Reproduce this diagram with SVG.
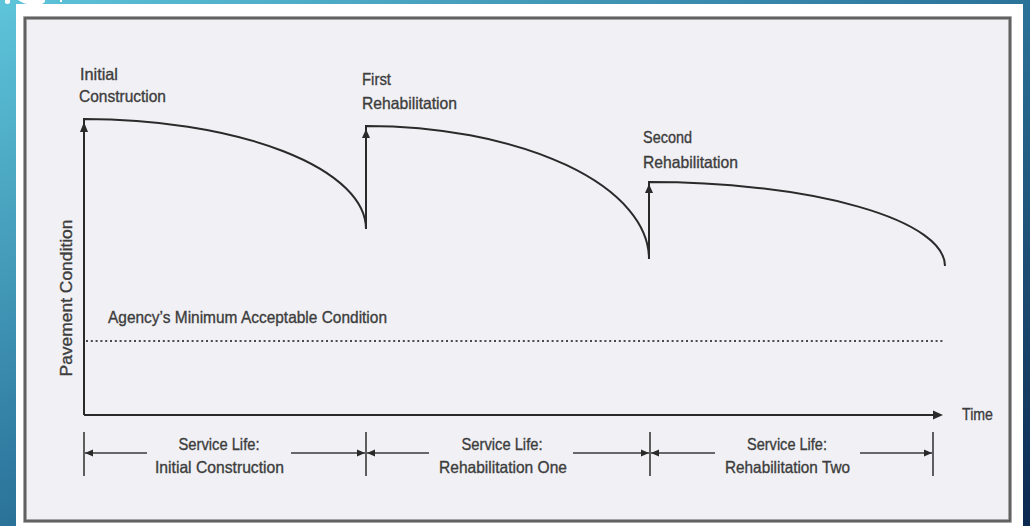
<svg xmlns="http://www.w3.org/2000/svg" width="1030" height="526" viewBox="0 0 1030 526">
  <defs>
    <linearGradient id="bg" x1="0" y1="0" x2="1" y2="1">
      <stop offset="0" stop-color="#5ec5da"/>
      <stop offset="0.45" stop-color="#2f7aa0"/>
      <stop offset="1" stop-color="#0c2950"/>
    </linearGradient>
    <marker id="ah" viewBox="0 0 8 8" refX="8" refY="4" markerWidth="8" markerHeight="8" markerUnits="userSpaceOnUse" orient="auto">
      <path d="M0,0.5 L8,4 L0,7.5 z" fill="#2a2a2a"/>
    </marker>
    <style>
      .t { font-family: "Liberation Sans", Arial, sans-serif; fill: #3d3d3d; stroke: #3d3d3d; stroke-width: 0.35; font-size: 16.5px; }
      .c { text-anchor: middle; }
      .ln { stroke: #2a2a2a; stroke-width: 2; fill: none; }
      .tk { stroke: #3a3a3a; stroke-width: 1.6; }
      .hd { fill: #2a2a2a; }
    </style>
  </defs>

  <!-- background -->
  <rect x="0" y="0" width="1030" height="526" fill="url(#bg)"/>
  <path d="M5,0 h5 v3 q-2.5,2 -5,0 z M18,0 h27 v2 q-5,4 -13,3 q-9,-1 -14,-5 z M60,0 h2 v2 h-2 z" fill="#ffffff"/>
  <rect x="16" y="4" width="1007" height="522" fill="#ffffff"/>
  <rect x="25" y="18" width="985" height="503" fill="#f1f1f5" stroke="#8a8a8a" stroke-width="3.5"/>
  <rect x="25" y="18" width="985" height="503" fill="none" stroke="#555" stroke-width="1.5"/>

  <!-- connectors: axes, curves, dimension arrows -->
  <g id="connectors">
    <path class="ln" d="M84,415 V119 A282,110 0 0 1 366,229 V126 A283,133 0 0 1 649,259 V182 A296,84 0 0 1 945,266"/>
    <polygon class="hd" points="84,122 80,132 88,132"/>
    <polygon class="hd" points="366,129 362,138 370,138"/>
    <polygon class="hd" points="649,184 645,193 653,193"/>
    <line class="ln" x1="84" y1="415" x2="934" y2="415"/>
    <polygon class="hd" points="943,415 933,410.5 933,419.5"/>
    <line x1="86" y1="341" x2="945" y2="341" stroke="#4a4a4a" stroke-width="2.2" stroke-dasharray="2 2.8"/>

    <line class="tk" x1="84" y1="432" x2="84" y2="476"/>
    <line class="tk" x1="366" y1="432" x2="366" y2="476"/>
    <line class="tk" x1="650" y1="432" x2="650" y2="476"/>
    <line class="tk" x1="933" y1="432" x2="933" y2="476"/>

    <line class="tk" x1="147" y1="453" x2="85" y2="453" marker-end="url(#ah)"/>
    <line class="tk" x1="291" y1="453" x2="365" y2="453" marker-end="url(#ah)"/>
    <line class="tk" x1="429" y1="453" x2="367" y2="453" marker-end="url(#ah)"/>
    <line class="tk" x1="573" y1="453" x2="649" y2="453" marker-end="url(#ah)"/>
    <line class="tk" x1="715" y1="453" x2="651" y2="453" marker-end="url(#ah)"/>
    <line class="tk" x1="860" y1="453" x2="932" y2="453" marker-end="url(#ah)"/>
  </g>

  <g id="initial-construction">
    <text class="t" x="80" y="80" textLength="38" lengthAdjust="spacingAndGlyphs">Initial</text>
    <text class="t" x="79" y="102" textLength="87" lengthAdjust="spacingAndGlyphs">Construction</text>
  </g>
  <g id="first-rehabilitation">
    <text class="t" x="362" y="85" textLength="29" lengthAdjust="spacingAndGlyphs">First</text>
    <text class="t" x="362" y="109" textLength="95" lengthAdjust="spacingAndGlyphs">Rehabilitation</text>
  </g>
  <g id="second-rehabilitation">
    <text class="t" x="643" y="143" textLength="49" lengthAdjust="spacingAndGlyphs">Second</text>
    <text class="t" x="643" y="168" textLength="95" lengthAdjust="spacingAndGlyphs">Rehabilitation</text>
  </g>
  <g id="minimum-condition">
    <text class="t" x="108" y="323" textLength="279" lengthAdjust="spacingAndGlyphs">Agency’s Minimum Acceptable Condition</text>
  </g>
  <g id="y-axis-label">
    <text class="t c" transform="translate(72,298) rotate(-90)" textLength="157" lengthAdjust="spacingAndGlyphs">Pavement Condition</text>
  </g>
  <g id="x-axis-label">
    <text class="t" x="962" y="420" font-size="15" textLength="31" lengthAdjust="spacingAndGlyphs">Time</text>
  </g>
  <g id="service-life-1">
    <text class="t c" x="219" y="450" textLength="81" lengthAdjust="spacingAndGlyphs">Service Life:</text>
    <text class="t c" x="219.5" y="473" textLength="129" lengthAdjust="spacingAndGlyphs">Initial Construction</text>
  </g>
  <g id="service-life-2">
    <text class="t c" x="502" y="450" textLength="81" lengthAdjust="spacingAndGlyphs">Service Life:</text>
    <text class="t c" x="503" y="473" textLength="128" lengthAdjust="spacingAndGlyphs">Rehabilitation One</text>
  </g>
  <g id="service-life-3">
    <text class="t c" x="787" y="450" textLength="80" lengthAdjust="spacingAndGlyphs">Service Life:</text>
    <text class="t c" x="787.5" y="473" textLength="125" lengthAdjust="spacingAndGlyphs">Rehabilitation Two</text>
  </g>
</svg>
